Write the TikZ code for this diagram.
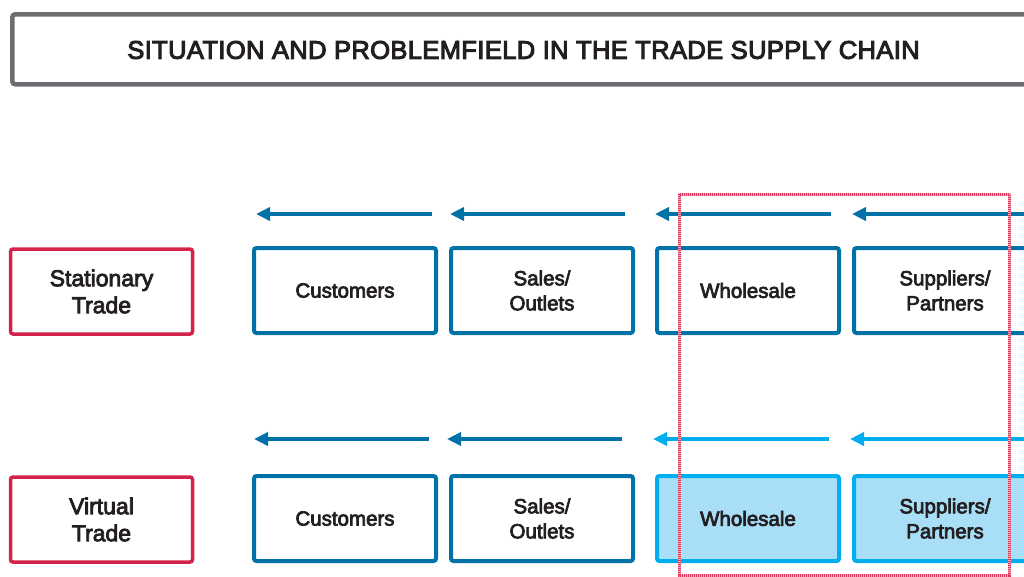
\documentclass[tikz,border=0pt]{standalone}
\usepackage{fontspec}
\setmainfont{Liberation Sans}[RawFeature={embolden=3.5}]
\newfontfamily\titlefont{Liberation Sans}[RawFeature={embolden=4}, LetterSpace=1.5]
\usetikzlibrary{arrows.meta}
\definecolor{tgray}{HTML}{6D6E71}
\definecolor{tred}{HTML}{D4234A}
\definecolor{tblue}{HTML}{0072A8}
\definecolor{lblue}{HTML}{00AEEF}
\definecolor{lfill}{HTML}{A8DEF6}
\definecolor{txt}{HTML}{231F20}
\tikzset{
  base/.style={rounded corners=2.5pt, minimum width=182pt, minimum height=85pt, align=center, text=txt, inner sep=0pt},
  tradebox/.style={base, draw=tred, line width=3.5pt, font=\fontsize{23}{27}\selectfont},
  chainbox/.style={base, draw=tblue, line width=4pt, font=\fontsize{20.5}{25}\selectfont},
  hibox/.style={base, draw=lblue, fill=lfill, line width=4pt, font=\fontsize{20.5}{25}\selectfont},
  flow/.style={draw=tblue, line width=4pt, -{Triangle[length=14pt,width=13pt]}},
  hiflow/.style={flow, draw=lblue},
}
\begin{document}
\begin{tikzpicture}[x=1pt,y=-1pt]
\useasboundingbox (0,0) rectangle (1024,576);
\clip (0,0) rectangle (1024,576);
% title
\node[draw=tgray, line width=4.5pt, rounded corners=3pt, minimum width=1040pt, minimum height=70pt, anchor=north west, inner sep=0pt] (titlebox) at (10,12) {};
\node[text=txt, font=\titlefont\fontsize{25.5}{29}\selectfont] (title) at (523.5,50) {SITUATION AND PROBLEMFIELD IN THE TRADE SUPPLY CHAIN};
% left labels
\node[tradebox] (st) at (101.5,291.5) {Stationary\\Trade};
\node[tradebox] (vt) at (101.5,519.5) {Virtual\\Trade};
% row 1
\node[chainbox] (c1) at (345,290.5) {Customers};
\node[chainbox] (s1) at (542,290.5) {Sales/\\Outlets};
\node[chainbox] (w1) at (748,290.5) {Wholesale};
\node[chainbox] (p1) at (945,290.5) {Suppliers/\\Partners};
% row 2
\node[chainbox] (c2) at (345,518.5) {Customers};
\node[chainbox] (s2) at (542,518.5) {Sales/\\Outlets};
\node[hibox] (w2) at (748,518.5) {Wholesale};
\node[hibox] (p2) at (945,518.5) {Suppliers/\\Partners};
% arrows row 1
\coordinate (a1s) at (432,214); \coordinate (a1e) at (256,214);
\coordinate (a2s) at (625,214); \coordinate (a2e) at (450,214);
\coordinate (a3s) at (831,214); \coordinate (a3e) at (655,214);
\coordinate (a4s) at (1030,214); \coordinate (a4e) at (852,214);
\draw[flow] (a1s) -- (a1e);
\draw[flow] (a2s) -- (a2e);
\draw[flow] (a3s) -- (a3e);
\draw[flow] (a4s) -- (a4e);
% arrows row 2
\coordinate (b1s) at (429,439); \coordinate (b1e) at (254,439);
\coordinate (b2s) at (622,439); \coordinate (b2e) at (447,439);
\coordinate (b3s) at (829,439); \coordinate (b3e) at (653,439);
\coordinate (b4s) at (1030,439); \coordinate (b4e) at (850,439);
\draw[flow] (b1s) -- (b1e);
\draw[flow] (b2s) -- (b2e);
\draw[hiflow] (b3s) -- (b3e);
\draw[hiflow] (b4s) -- (b4e);
% problem field
\coordinate (pf1) at (679,194);
\coordinate (pf2) at (1009,575);
\draw[tred!38, line width=3pt] (pf1) rectangle (pf2);
\draw[tred!90, line width=3pt, dash pattern=on 1pt off 1pt] (pf1) rectangle (pf2);
\end{tikzpicture}
\end{document}
